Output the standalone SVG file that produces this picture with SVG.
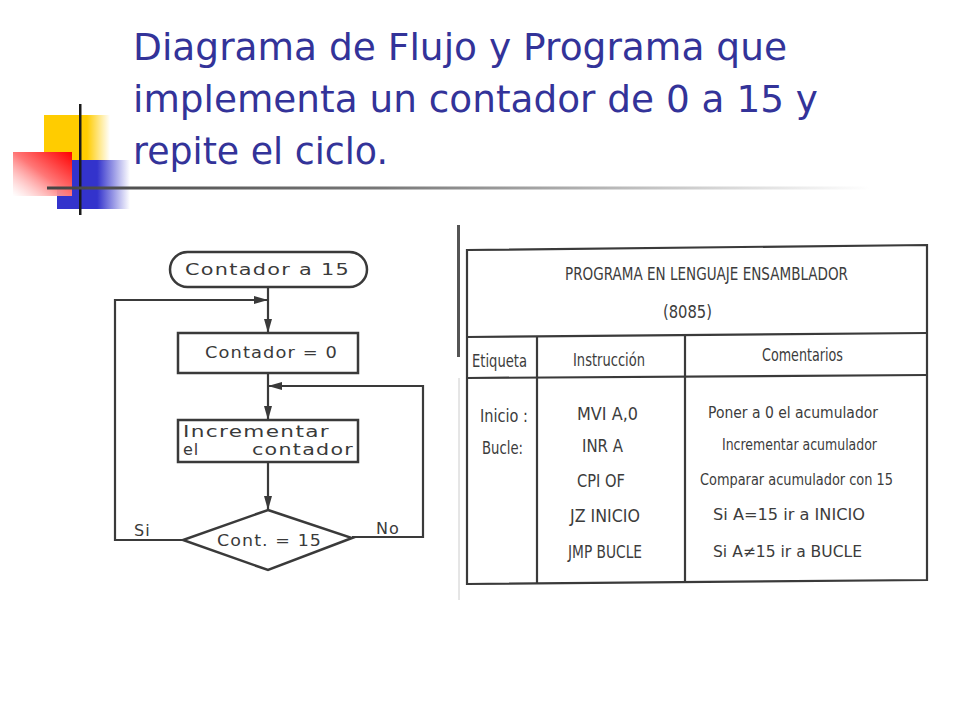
<svg xmlns="http://www.w3.org/2000/svg" width="960" height="720" viewBox="0 0 960 720">
<defs>
<linearGradient id="gY" x1="0" y1="0" x2="1" y2="0"><stop offset="0" stop-color="#FFCC00"/><stop offset="0.65" stop-color="#FFCC00"/><stop offset="1" stop-color="#FFCC00" stop-opacity="0"/></linearGradient>
<linearGradient id="gB" x1="0" y1="0" x2="1" y2="0"><stop offset="0" stop-color="#3333CC"/><stop offset="0.55" stop-color="#3333CC"/><stop offset="1" stop-color="#3333CC" stop-opacity="0"/></linearGradient>
<linearGradient id="gR" x1="1" y1="0" x2="0" y2="1"><stop offset="0" stop-color="#FF0000"/><stop offset="0.5" stop-color="#FF7777"/><stop offset="1" stop-color="#FFFFFF" stop-opacity="0.6"/></linearGradient>
<linearGradient id="gL" x1="0" y1="0" x2="1" y2="0"><stop offset="0" stop-color="#444444"/><stop offset="0.4" stop-color="#777777"/><stop offset="1" stop-color="#FFFFFF"/></linearGradient>
<marker id="arr" viewBox="0 0 14 8" refX="14" refY="4" markerWidth="14" markerHeight="8" markerUnits="userSpaceOnUse" orient="auto"><path d="M0,0 L14,4 L0,8 Z" fill="#3a3a3a"/></marker>
<style>
.title{font-family:"DejaVu Sans","Liberation Sans",sans-serif;font-size:38px;fill:#333399}
.fc{fill:#ffffff;stroke:#3a3a3a;stroke-width:2.5}
.ft{font-family:"DejaVu Sans","Liberation Sans",sans-serif;font-size:16px;fill:#3a3a3a;letter-spacing:1px}
.con{fill:none;stroke:#3a3a3a;stroke-width:2.2}
.tb{fill:none;stroke:#3a3a3a;stroke-width:2.2}
.tt{font-family:"DejaVu Sans","Liberation Sans",sans-serif;font-size:18px;fill:#3c3c3c}
.tc{font-family:"DejaVu Sans","Liberation Sans",sans-serif;font-size:16px;fill:#3c3c3c}
.th{font-family:"DejaVu Sans","Liberation Sans",sans-serif;font-size:17px;fill:#3c3c3c}
</style>
</defs>
<rect width="960" height="720" fill="#ffffff"/>
<g id="decoration">
<rect x="44" y="115" width="66" height="46" fill="url(#gY)"/>
<rect x="57" y="160" width="73" height="49" fill="url(#gB)"/>
<rect x="13" y="152" width="59" height="44" fill="url(#gR)"/>
<rect x="79" y="104" width="2.5" height="111" fill="#1a1a1a"/>
<rect x="47" y="186.5" width="823" height="3" fill="url(#gL)"/>
</g>
<g id="title">
<text class="title" x="133" y="60" textLength="654" lengthAdjust="spacingAndGlyphs">Diagrama de Flujo y Programa que</text>
<text class="title" x="133" y="112" textLength="685" lengthAdjust="spacingAndGlyphs">implementa un contador de 0 a 15 y</text>
<text class="title" x="133" y="164" textLength="255" lengthAdjust="spacingAndGlyphs">repite el ciclo.</text>
</g>
<g id="connectors">
<path class="con" d="M268,287 L268,333" marker-end="url(#arr)"/>
<path class="con" d="M268,373 L268,420" marker-end="url(#arr)"/>
<path class="con" d="M268,462 L268,510" marker-end="url(#arr)"/>
<path class="con" d="M183,540 L115,540 L115,300 L268,300" marker-end="url(#arr)"/>
<path class="con" d="M352,537 L423,537 L423,386 L268,386" marker-end="url(#arr)"/>
<text class="ft" x="134" y="536">Si</text>
<text class="ft" x="376" y="534">No</text>
</g>
<g id="node-inicio">
<rect class="fc" x="170" y="252" width="197" height="35" rx="17.5"/>
<text class="ft" x="185" y="275" textLength="165" lengthAdjust="spacingAndGlyphs">Contador a 15</text>
</g>
<g id="node-contador0">
<rect class="fc" x="178" y="333" width="180" height="40"/>
<text class="ft" x="205" y="358" textLength="133" lengthAdjust="spacingAndGlyphs">Contador = 0</text>
</g>
<g id="node-incrementar">
<rect class="fc" x="178" y="420" width="180" height="42"/>
<text class="ft" x="183" y="437" textLength="147" lengthAdjust="spacingAndGlyphs">Incrementar</text>
<text class="ft"><tspan x="183" y="455">el</tspan> <tspan x="252" y="455" textLength="102" lengthAdjust="spacingAndGlyphs">contador</tspan></text>
</g>
<g id="node-decision">
<polygon class="fc" points="268,510 352,538 268,570 183,540"/>
<text class="ft" x="217" y="546" textLength="105" lengthAdjust="spacingAndGlyphs">Cont. = 15</text>
</g>
<g id="table">
<rect x="457" y="225" width="3" height="132" fill="#555555"/>
<line x1="459" y1="378" x2="459" y2="600" stroke="#cccccc" stroke-width="1"/>
<path class="tb" d="M467,250 L927,245 L927,580 L467,584 Z"/>
<line class="tb" x1="467" y1="337" x2="927" y2="333"/>
<line class="tb" x1="467" y1="378" x2="927" y2="375"/>
<line class="tb" x1="537" y1="337" x2="537" y2="584"/>
<line class="tb" x1="685" y1="336" x2="685" y2="582"/>
<text class="th" x="565" y="280" textLength="283" lengthAdjust="spacingAndGlyphs">PROGRAMA EN LENGUAJE ENSAMBLADOR</text>
<text class="th" x="663" y="318" textLength="49" lengthAdjust="spacingAndGlyphs">(8085)</text>
<text class="th" x="472" y="367" textLength="55" lengthAdjust="spacingAndGlyphs">Etiqueta</text>
<text class="th" x="573" y="366" textLength="72" lengthAdjust="spacingAndGlyphs">Instrucción</text>
<text class="th" x="762" y="361" textLength="81" lengthAdjust="spacingAndGlyphs">Comentarios</text>
<text class="tt" x="480" y="422" textLength="48" lengthAdjust="spacingAndGlyphs">Inicio :</text>
<text class="tt" x="482" y="454" textLength="41" lengthAdjust="spacingAndGlyphs">Bucle:</text>
<text class="tt" x="577" y="420" textLength="61" lengthAdjust="spacingAndGlyphs">MVI A,0</text>
<text class="tt" x="582" y="452" textLength="41" lengthAdjust="spacingAndGlyphs">INR A</text>
<text class="tt" x="577" y="487" textLength="48" lengthAdjust="spacingAndGlyphs">CPI OF</text>
<text class="tt" x="570" y="522" textLength="70" lengthAdjust="spacingAndGlyphs">JZ INICIO</text>
<text class="tt" x="568" y="558" textLength="74" lengthAdjust="spacingAndGlyphs">JMP BUCLE</text>
<text class="tc" x="708" y="418" textLength="170" lengthAdjust="spacingAndGlyphs">Poner a 0 el acumulador</text>
<text class="tc" x="722" y="450" textLength="155" lengthAdjust="spacingAndGlyphs">Incrementar acumulador</text>
<text class="tc" x="700" y="485" textLength="193" lengthAdjust="spacingAndGlyphs">Comparar acumulador con 15</text>
<text class="tc" x="713" y="520" textLength="152" lengthAdjust="spacingAndGlyphs">Si A=15 ir a INICIO</text>
<text class="tc" x="713" y="557" textLength="149" lengthAdjust="spacingAndGlyphs">Si A≠15 ir a BUCLE</text>
</g>
</svg>
